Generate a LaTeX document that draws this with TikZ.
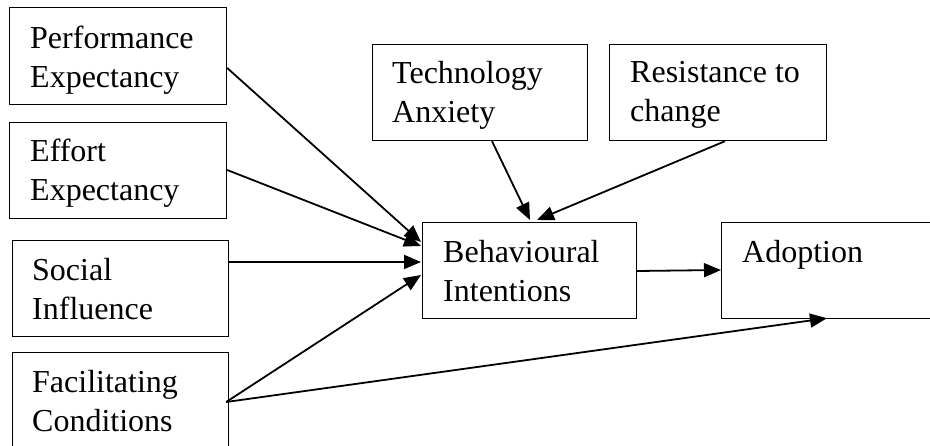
\documentclass[tikz,border=0pt]{standalone}
\usepackage{fontspec}
\setmainfont{Liberation Serif}
\usetikzlibrary{arrows.meta,calc}
\begin{document}
\begin{tikzpicture}[x=1pt,y=-1pt,
  box/.style={draw, line width=1.2pt, inner sep=0pt, anchor=north west},
  lbl/.style={anchor=north west, inner sep=0pt, align=left, font=\fontsize{32}{39}\selectfont},
  conn/.style={line width=1.8pt, -{Triangle[length=17pt,width=14pt]}}]
\useasboundingbox (0,0) rectangle (930,446);
\clip (0,0) rectangle (930,446);
% boxes
\node[box, minimum width=217pt, minimum height=97pt] (pe) at (9,7) {};
\node[box, minimum width=217pt, minimum height=96pt] (ee) at (9,122) {};
\node[box, minimum width=216pt, minimum height=96pt] (si) at (12,240) {};
\node[box, minimum width=216pt, minimum height=120pt] (fc) at (12,352) {};
\node[box, minimum width=215pt, minimum height=96pt] (ta) at (372,44) {};
\node[box, minimum width=217pt, minimum height=96pt] (rc) at (609,44) {};
\node[box, minimum width=214pt, minimum height=96pt] (bi) at (422,222) {};
\node[box, minimum width=260pt, minimum height=96pt] (ad) at (721,222) {};
% labels
\node[lbl] (pet) at (30,25.5) {Performance\\Expectancy};
\node[lbl] (eet) at (30,138.5) {Effort\\Expectancy};
\node[lbl] (sit) at (32,258.5) {Social\\Influence};
\node[lbl] (fct) at (32,370.5) {Facilitating\\Conditions};
\node[lbl] (tat) at (392,61.5) {Technology\\Anxiety};
\node[lbl] (rct) at (630,61.5) {Resistance to\\change};
\node[lbl] (bit) at (443,240.5) {Behavioural\\Intentions};
\node[lbl] (adt) at (742,240.5) {Adoption};
% connectors
\draw[conn] ($(pe.north east)+(0,61)$) -- ($(bi.north west)+(-1,20)$);
\draw[conn] ($(ee.north east)+(0,48)$) -- ($(bi.north west)+(-1,24)$);
\draw[conn] ($(si.north east)+(0,22)$) -- ($(bi.north west)+(-1,40)$);
\draw[conn] ($(fc.north east)+(-3,50)$) -- ($(bi.north west)+(-1,53)$);
\draw[conn] ($(fc.north east)+(-3,50)$) -- ($(ad.south west)+(106,-1)$);
\draw[conn] ($(ta.south west)+(120,0)$) -- ($(bi.north west)+(108,-2)$);
\draw[conn] ($(rc.south west)+(116,0)$) -- ($(bi.north west)+(115,-2)$);
\draw[conn] ($(bi.north east)+(0,49)$) -- ($(ad.north west)+(0,48)$);
\end{tikzpicture}
\end{document}
